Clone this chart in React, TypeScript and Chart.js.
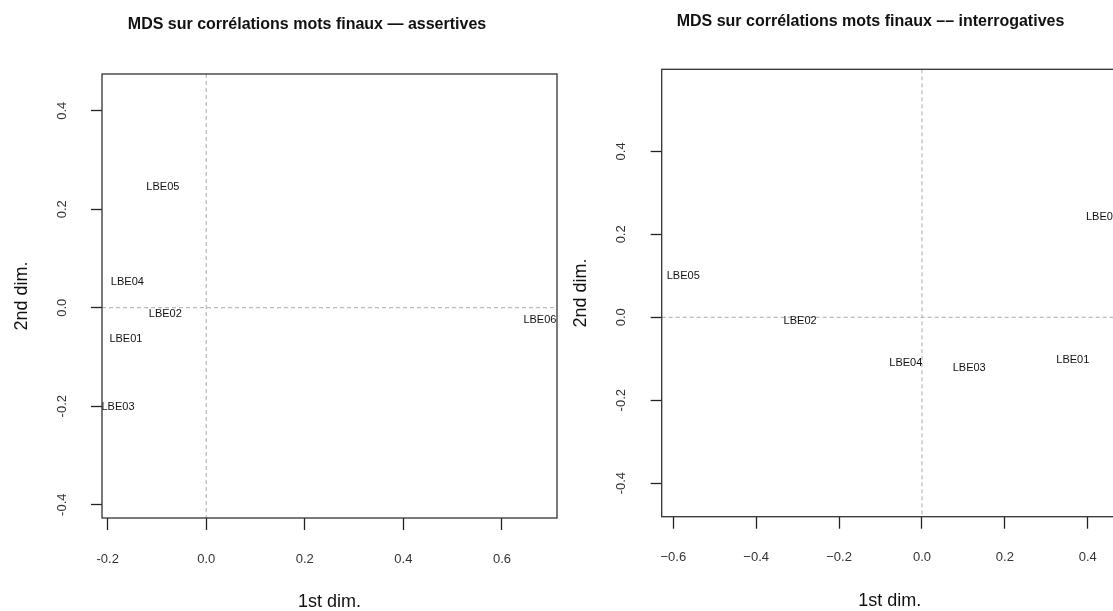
import React, { useEffect, useRef } from "react";
import { Chart, registerables } from "chart.js";

Chart.register(...registerables);

const FONT = "'Liberation Sans', Arial, Helvetica, sans-serif";

// ---- data ----
const pointLabels = ["LBE01", "LBE02", "LBE03", "LBE04", "LBE05", "LBE06"];

const assertX = [-0.163, -0.083, -0.179, -0.16, -0.088, 0.677];
const assertY = [-0.064, -0.013, -0.202, 0.053, 0.246, -0.025];

const interX = [0.364, -0.294, 0.114, -0.039, -0.576, 0.4355];
const interY = [-0.102, -0.009, -0.122, -0.111, 0.1, 0.241];

const leftXTicks = [-0.2, 0, 0.2, 0.4, 0.6];
const leftXTickLabels = ["-0.2", "0.0", "0.2", "0.4", "0.6"];
const leftYTicks = [-0.4, -0.2, 0, 0.2, 0.4];
const leftYTickLabels = ["-0.4", "-0.2", "0.0", "0.2", "0.4"];

const rightXTicks = [-0.6, -0.4, -0.2, 0, 0.2, 0.4];
const rightXTickLabels = ["\u22120.6", "\u22120.4", "\u22120.2", "0.0", "0.2", "0.4"];
const rightYTicks = [-0.4, -0.2, 0, 0.2, 0.4];
const rightYTickLabels = ["-0.4", "-0.2", "0.0", "0.2", "0.4"];

const leftTitle = "MDS sur corrélations mots finaux — assertives";
const rightTitle = "MDS sur corrélations mots finaux –– interrogatives";
const xAxisTitle = "1st dim.";
const yAxisTitle = "2nd dim.";

const leftRange = { xMin: -0.2115, xMax: 0.7117, yMin: -0.427, yMax: 0.4745 };
const rightRange = { xMin: -0.628, xMax: 0.473, yMin: -0.481, yMax: 0.598 };

const H = 611;

interface PanelCfg {
  title: string;
  xs: number[];
  ys: number[];
  range: { xMin: number; xMax: number; yMin: number; yMax: number };
  xTicks: number[];
  xTickLabels: string[];
  yTicks: number[];
  yTickLabels: string[];
  canvasLeft: number;
  canvasWidth: number;
  yAxisWidth: number;
  rightGap: number;
  titlePadTop: number;
  titlePadBottom: number;
  xAxisHeight: number;
  xTickPad: number;
  xTitlePadBottom: number;
  yTitlePadTop: number;
}

const leftCfg: PanelCfg = {
  title: leftTitle,
  xs: assertX,
  ys: assertY,
  range: leftRange,
  xTicks: leftXTicks,
  xTickLabels: leftXTickLabels,
  yTicks: leftYTicks,
  yTickLabels: leftYTickLabels,
  canvasLeft: 0,
  canvasWidth: 614,
  yAxisWidth: 102,
  rightGap: 57,
  titlePadTop: 15.4,
  titlePadBottom: 39.4,
  xAxisHeight: H - 518,
  xTickPad: 22,
  xTitlePadBottom: 0,
  yTitlePadTop: 12.7,
};

const rightCfg: PanelCfg = {
  title: rightTitle,
  xs: interX,
  ys: interY,
  range: rightRange,
  xTicks: rightXTicks,
  xTickLabels: rightXTickLabels,
  yTicks: rightYTicks,
  yTickLabels: rightYTickLabels,
  canvasLeft: 556,
  canvasWidth: 629,
  yAxisWidth: 105.7,
  rightGap: 67,
  titlePadTop: 12.1,
  titlePadBottom: 38,
  xAxisHeight: H - 516.7,
  xTickPad: 20.5,
  xTitlePadBottom: 1,
  yTitlePadTop: 16,
};

const mdsPlugin = {
  id: "mdsDecor",
  beforeDatasetsDraw(chart: any) {
    const { ctx, chartArea: a, scales } = chart;
    const x0 = scales.x.getPixelForValue(0);
    const y0 = scales.y.getPixelForValue(0);
    ctx.save();
    ctx.strokeStyle = "#ababab";
    ctx.lineWidth = 1;
    ctx.setLineDash([4, 3]);
    ctx.beginPath();
    ctx.moveTo(x0, a.top);
    ctx.lineTo(x0, a.bottom);
    ctx.moveTo(a.left, y0);
    ctx.lineTo(a.right, y0);
    ctx.stroke();
    ctx.restore();
  },
  afterDatasetsDraw(chart: any, _args: any, opts: any) {
    const { ctx } = chart;
    const meta = chart.getDatasetMeta(0);
    ctx.save();
    ctx.fillStyle = "#111";
    ctx.font = `11px ${FONT}`;
    ctx.textAlign = "center";
    ctx.textBaseline = "middle";
    meta.data.forEach((el: any, i: number) => {
      ctx.fillText(opts.labels[i], el.x, el.y);
    });
    ctx.restore();
  },
  afterDraw(chart: any, _args: any, opts: any) {
    const { ctx, chartArea: a, scales } = chart;
    ctx.save();
    ctx.strokeStyle = "#333";
    ctx.lineWidth = 1.3;
    ctx.strokeRect(a.left, a.top, a.right - a.left, a.bottom - a.top);
    // rotated y tick labels
    ctx.fillStyle = "#333";
    ctx.font = `13px ${FONT}`;
    ctx.textAlign = "center";
    ctx.textBaseline = "middle";
    scales.y.ticks.forEach((t: any, i: number) => {
      const py = scales.y.getPixelForValue(t.value);
      ctx.save();
      ctx.translate(a.left - 40, py);
      ctx.rotate(-Math.PI / 2);
      ctx.fillText(opts.yTickLabels[i], 0, 0);
      ctx.restore();
    });
    ctx.restore();
  },
};

function Panel({ cfg }: { cfg: PanelCfg }) {
  const ref = useRef<HTMLCanvasElement>(null);
  useEffect(() => {
    if (!ref.current) return;
    const data = cfg.xs.map((x, i) => ({ x, y: cfg.ys[i] }));
    const chart = new Chart(ref.current, {
      type: "scatter",
      data: {
        datasets: [
          {
            data,
            pointRadius: 0,
            pointHoverRadius: 0,
            showLine: false,
          },
        ],
      },
      options: {
        responsive: false,
        animation: false,
        devicePixelRatio: 1,
        events: [],
        layout: { padding: 0 },
        plugins: {
          legend: { display: false },
          tooltip: { enabled: false },
          title: {
            display: true,
            text: cfg.title,
            color: "#111",
            font: { family: FONT, size: 16, weight: "bold", lineHeight: 1.2 },
            padding: { top: cfg.titlePadTop, bottom: cfg.titlePadBottom },
          },
          mdsDecor: { labels: pointLabels, yTickLabels: cfg.yTickLabels },
        } as any,
        scales: {
          x: {
            type: "linear",
            position: "bottom",
            min: cfg.range.xMin,
            max: cfg.range.xMax,
            afterBuildTicks: (s: any) => {
              s.ticks = cfg.xTicks.map((v) => ({ value: v }));
            },
            afterFit: (s: any) => {
              s.height = cfg.xAxisHeight;
            },
            grid: {
              display: true,
              drawOnChartArea: false,
              drawTicks: true,
              tickLength: 12,
              tickColor: "#222",
              tickWidth: 1.3,
              color: "#222",
            },
            border: { display: false },
            ticks: {
              autoSkip: false,
              maxRotation: 0,
              minRotation: 0,
              padding: cfg.xTickPad,
              color: "#333",
              font: { family: FONT, size: 13 },
              callback: (_v: any, i: number) => cfg.xTickLabels[i],
            },
            title: {
              display: true,
              text: xAxisTitle,
              color: "#111",
              font: { family: FONT, size: 18, lineHeight: 1 },
              padding: { top: 0, bottom: cfg.xTitlePadBottom },
            },
          },
          y: {
            type: "linear",
            position: "left",
            min: cfg.range.yMin,
            max: cfg.range.yMax,
            afterBuildTicks: (s: any) => {
              s.ticks = cfg.yTicks.map((v) => ({ value: v }));
            },
            afterFit: (s: any) => {
              s.width = cfg.yAxisWidth;
            },
            grid: {
              display: true,
              drawOnChartArea: false,
              drawTicks: true,
              tickLength: 11,
              tickColor: "#222",
              tickWidth: 1.3,
              color: "#222",
            },
            border: { display: false },
            ticks: { display: false },
            title: {
              display: true,
              text: yAxisTitle,
              color: "#111",
              font: { family: FONT, size: 18, lineHeight: 1 },
              padding: { top: cfg.yTitlePadTop, bottom: 0 },
            },
          },
          gapRight: {
            type: "linear",
            axis: "y",
            position: "right",
            display: true,
            min: 0,
            max: 1,
            afterFit: (s: any) => {
              s.width = cfg.rightGap;
            },
            grid: { display: false, drawTicks: false },
            border: { display: false },
            ticks: { display: false },
            title: { display: false },
          },
        },
      } as any,
      plugins: [mdsPlugin as any],
    });
    return () => chart.destroy();
  }, [cfg]);
  return (
    <canvas
      ref={ref}
      width={cfg.canvasWidth}
      height={H}
      style={{
        position: "absolute",
        left: cfg.canvasLeft,
        top: 0,
        width: cfg.canvasWidth,
        height: H,
      }}
    />
  );
}

export default function App() {
  return (
    <div
      style={{
        position: "fixed",
        left: 0,
        top: 0,
        width: 1113,
        height: H,
        overflow: "hidden",
        background: "#fff",
      }}
    >
      <Panel cfg={leftCfg} />
      <Panel cfg={rightCfg} />
    </div>
  );
}
